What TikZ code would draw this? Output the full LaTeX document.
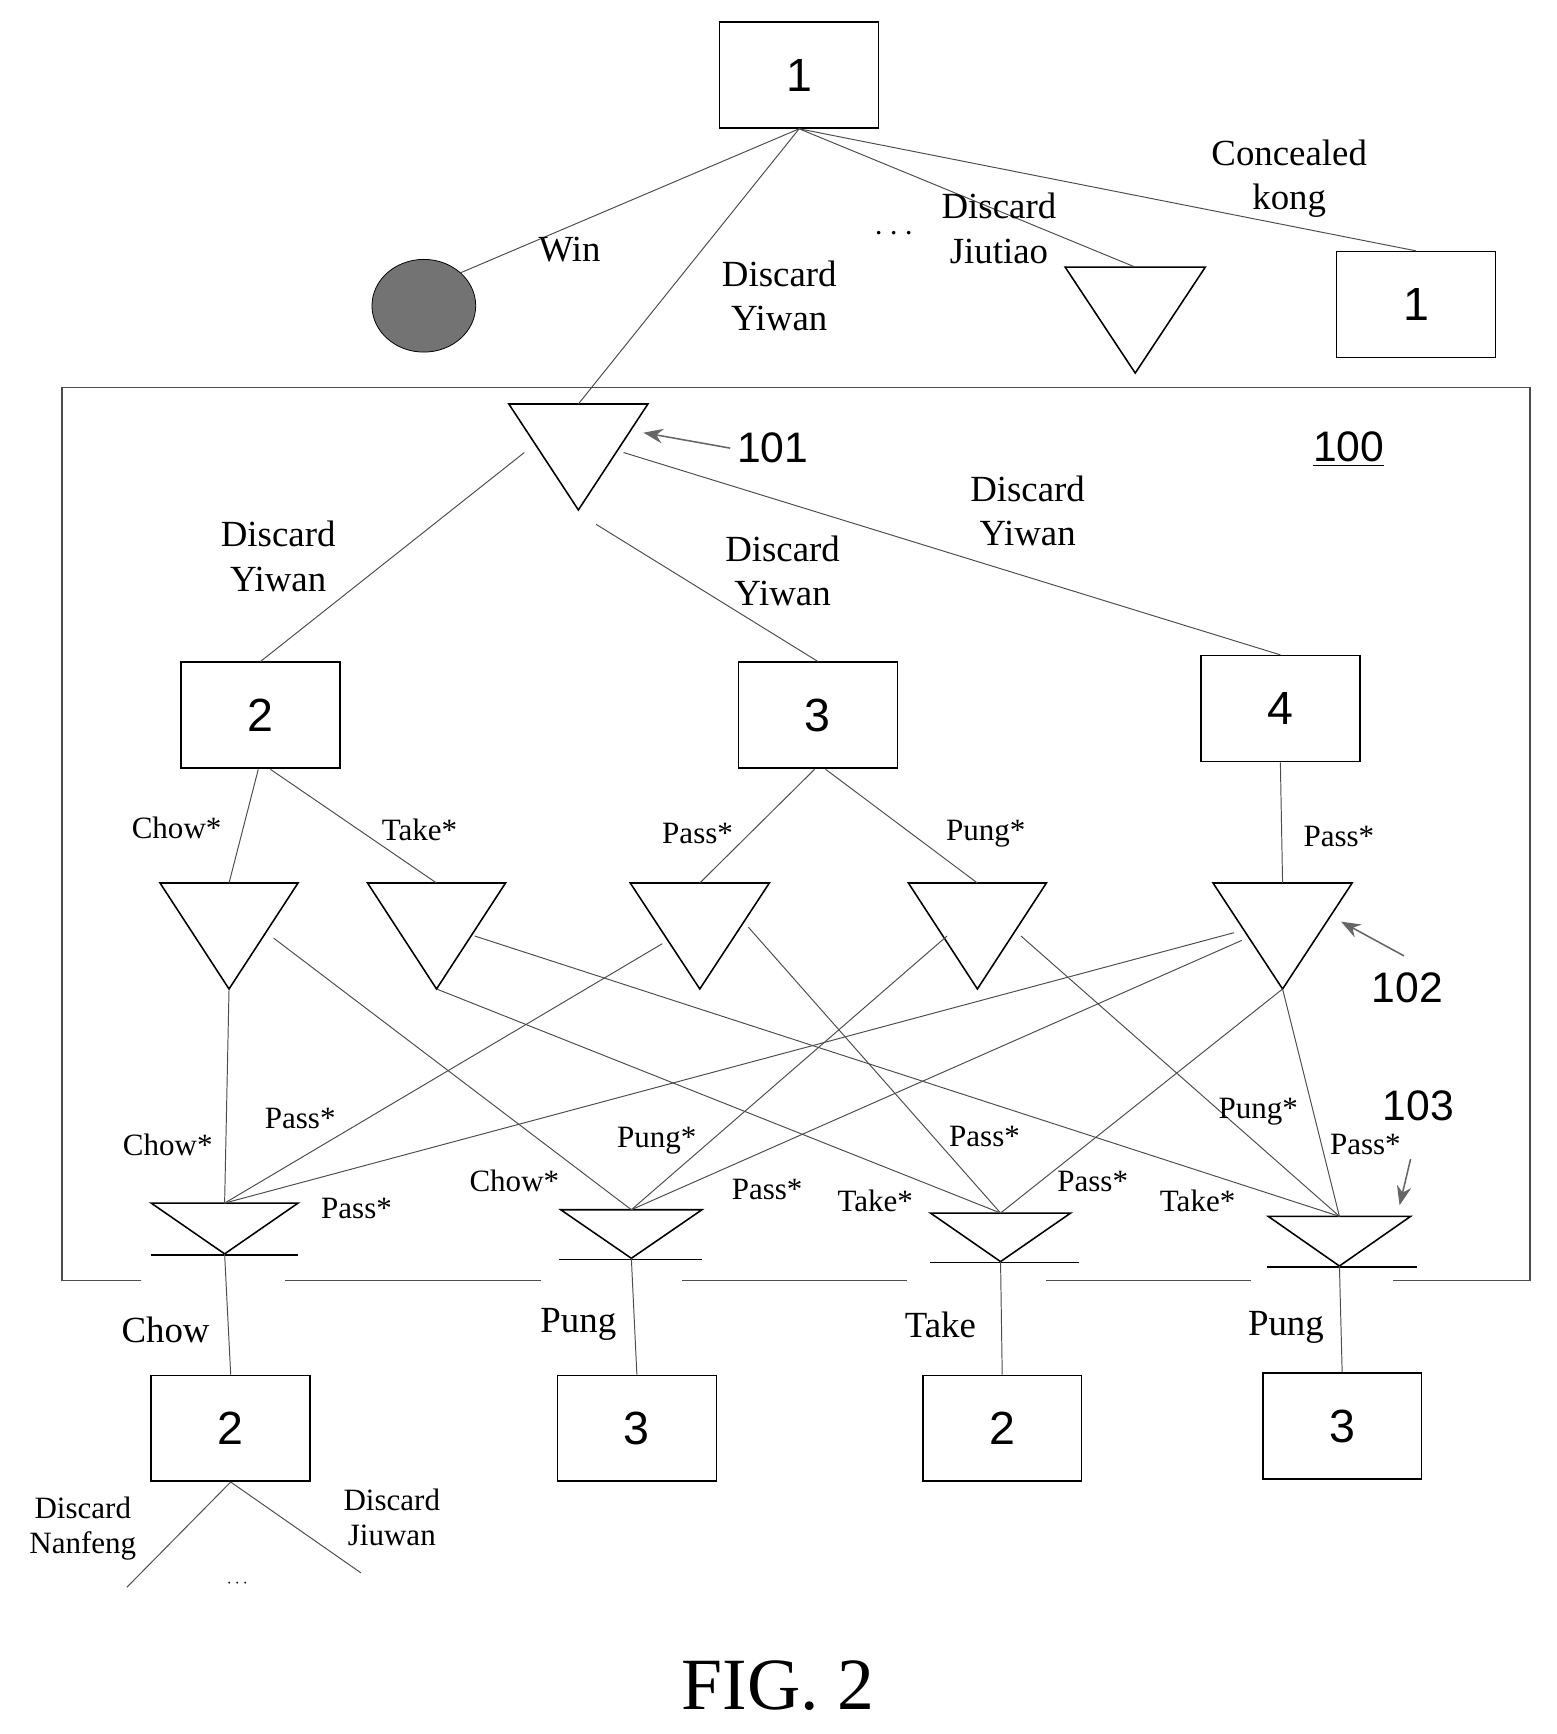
\documentclass[tikz,border=0pt]{standalone}
\usepackage{fontspec}
\setmainfont{Liberation Serif}
\newfontfamily\numfont{Liberation Sans}
\usetikzlibrary{positioning,arrows.meta,shapes.geometric}
\tikzset{
    state/.style={draw,thick,minimum width=2.88cm,minimum height=1.92cm,font=\numfont\fontsize{24}{26}\selectfont},
    edge/.style={draw=black!70,line width=0.5pt},
    lbl/.style={font=\fontsize{19}{22.8}\selectfont,align=center},
    slbl/.style={font=\fontsize{16}{18}\selectfont},
    ref/.style={font=\numfont\fontsize{22}{24}\selectfont},
}
% down pointing triangle: name, top y, left x, right x, apex y
\newcommand{\dtri}[5]{%
    \coordinate (#1-l) at (#3,#2);
    \coordinate (#1-r) at (#4,#2);
    \coordinate (#1-t) at ({(#3+#4)/2},#2);
    \coordinate (#1-b) at ({(#3+#4)/2},#5);
    \draw[thick] (#1-l) -- (#1-r) -- (#1-b) -- cycle;
}
\begin{document}
\begin{tikzpicture}[x=0.02cm,y=-0.02cm]
    \useasboundingbox (0,0) rectangle (1410,1571);
    %region 100
    \draw[edge,thick] (128,1160) -- (56,1160) -- (56,351) -- (1386,351) -- (1386,1160) -- (1262,1160);
    \foreach \a/\b in {258/490,618/822,948/1133}
        {%
            \draw[edge,thick] (\a,1160) -- (\b,1160);
        }
    \node[ref] at (1222,407) {\underline{100}};
    %top level
    \node[state] (root) at (724,68) {1};
    \node[state] (kong) at (1283,276) {1};
    \node[draw,fill=black!55,ellipse,minimum width=1.88cm,minimum height=1.68cm] (win) at (384,277) {};
    \dtri{jt}{242}{965}{1092}{338}
    \dtri{ta}{366}{461}{587}{462}
    \draw[edge] (root.south) -- (win.north east);
    \draw[edge] (root.south) -- (ta-t);
    \draw[edge] (root.south) -- (jt-t);
    \draw[edge] (root.south) -- (kong.north);
    \node[lbl] at (516,226) {Win};
    \node[lbl] at (706,268) {Discard\\Yiwan};
    \node[lbl] at (905,207) {Discard\\Jiutiao};
    \node[lbl] at (810,212) {$\cdots$};
    \node[lbl] at (1168,162) {Concealed\\kong};
    \node[ref] (r101) at (700,406) {101};
    \draw[-{Stealth[length=10pt]},black!60,thick] (r101.west) -- (583,392);
    %second level
    \node[state] (s2) at (236,648) {2};
    \node[state] (s3) at (741,648) {3};
    \node[state] (s4) at (1160,642) {4};
    \draw[edge] (475,410) -- (s2.north);
    \draw[edge] (540,475) -- (s3.north);
    \draw[edge] (565,410) -- (s4.north);
    \node[lbl] at (252,504) {Discard\\Yiwan};
    \node[lbl] at (709,517) {Discard\\Yiwan};
    \node[lbl] at (931,463) {Discard\\Yiwan};
    %chance triangles
    \dtri{c1}{800}{145}{270}{896}
    \dtri{c2}{800}{333}{458}{896}
    \dtri{c3}{800}{571}{697}{896}
    \dtri{c4}{800}{823}{948}{896}
    \dtri{c5}{800}{1099}{1225}{896}
    \draw[edge] (234,697) -- (c1-t);
    \draw[edge] (245,697) -- (c2-t);
    \draw[edge] (738,697) -- (c3-t);
    \draw[edge] (748,697) -- (c4-t);
    \draw[edge] (s4.south) -- (c5-t);
    \node[slbl] at (160,750) {Chow*};
    \node[slbl] at (380,752) {Take*};
    \node[slbl] at (632,755) {Pass*};
    \node[slbl] at (893,755) {Pung*};
    \node[slbl] at (1213,758) {Pass*};
    \node[ref] (r102) at (1275,895) {102};
    \draw[-{Stealth[length=10pt]},black!60,thick] (1272,866) -- (1215,835);
    %response triangles
    \dtri{d1}{1090}{137}{270}{1136}
    \dtri{d2}{1096}{508}{636}{1140}
    \dtri{d3}{1099}{843}{970}{1143}
    \dtri{d4}{1102}{1149}{1278}{1147}
    \foreach \n/\a/\b/\y in {d1/137/270/1137,d2/506/636/1141,d3/843/978/1144,d4/1148/1284/1148}
        {%
            \draw[thick] (\a,\y) -- (\b,\y);
        }
    \draw[edge] (c1-b) -- (d1-t);
    \draw[edge] (248,850) -- (d2-t);
    \draw[edge] (c2-b) -- (d3-t);
    \draw[edge] (430,848) -- (d4-t);
    \draw[edge] (600,855) -- (d1-t);
    \draw[edge] (678,840) -- (d3-t);
    \draw[edge] (858,848) -- (d2-t);
    \draw[edge] (925,848) -- (d4-t);
    \draw[edge] (1118,845) -- (d1-t);
    \draw[edge] (1125,852) -- (d2-t);
    \draw[edge] (c5-b) -- (d3-t);
    \draw[edge] (c5-b) -- (d4-t);
    \node[slbl] at (152,1037) {Chow*};
    \node[slbl] at (272,1013) {Pass*};
    \node[slbl] at (323,1095) {Pass*};
    \node[slbl] at (466,1070) {Chow*};
    \node[slbl] at (595,1033) {Pung*};
    \node[slbl] at (695,1078) {Pass*};
    \node[slbl] at (793,1088) {Take*};
    \node[slbl] at (892,1030) {Pass*};
    \node[slbl] at (990,1070) {Pass*};
    \node[slbl] at (1085,1088) {Take*};
    \node[slbl] at (1140,1007) {Pung*};
    \node[slbl] at (1237,1037) {Pass*};
    \node[ref] (r103) at (1285,1002) {103};
    \draw[-{Stealth[length=10pt]},black!60,thick] (1278,1050) -- (1268,1092);
    %outcomes
    \node[state] (o1) at (209,1294) {2};
    \node[state] (o2) at (577,1294) {3};
    \node[state] (o3) at (908,1294) {2};
    \node[state] (o4) at (1216,1292) {3};
    \draw[edge] (d1-b) -- (o1.north);
    \draw[edge] (d2-b) -- (o2.north);
    \draw[edge] (d3-b) -- (o3.north);
    \draw[edge] (d4-b) -- (o4.north);
    \node[lbl] at (150,1205) {Chow};
    \node[lbl] at (524,1200) {Pung};
    \node[lbl] at (852,1200) {Take};
    \node[lbl] at (1165,1203) {Pung};
    \coordinate (n1) at (115,1438);
    \coordinate (n2) at (327,1425);
    \draw[edge] (o1.south) -- (n1);
    \draw[edge] (o1.south) -- (n2);
    \node[slbl,align=center] at (75,1385) {Discard\\Nanfeng};
    \node[slbl,align=center] at (355,1375) {Discard\\Jiuwan};
    \node[font=\small] at (215,1435) {$\cdots$};
    \node[font=\fontsize{38}{40}\selectfont] at (705,1527) {FIG. 2};
\end{tikzpicture}
\end{document}
